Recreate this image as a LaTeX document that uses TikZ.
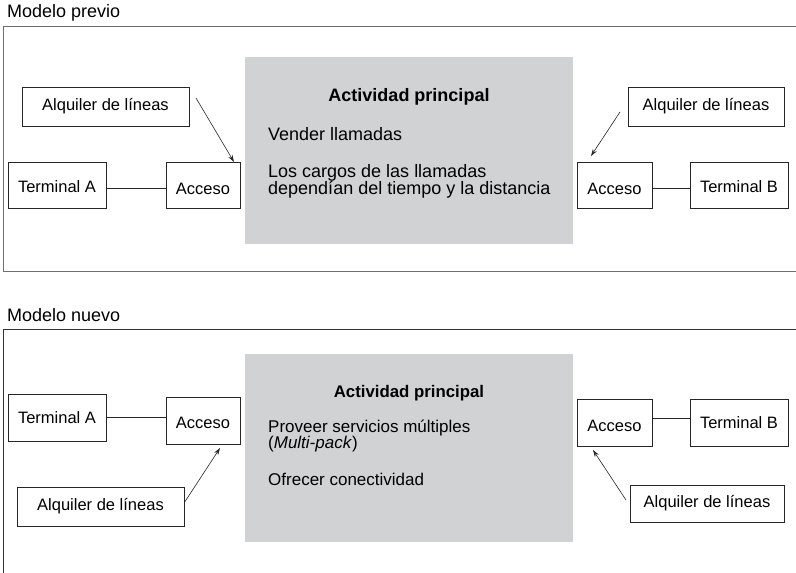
\documentclass[tikz,border=0pt]{standalone}
\usepackage{fontspec}
\setmainfont{Liberation Sans}
\usetikzlibrary{arrows.meta}
\definecolor{boxgray}{HTML}{D1D2D4}
\definecolor{framegray}{HTML}{6E6E6E}
\definecolor{framedark}{HTML}{333333}
\newcommand{\lowertext}[1]{\raisebox{-3pt}[12pt][0pt]{#1}}
\tikzset{
  lbl/.style={draw=black!85, line width=0.8pt, inner sep=0pt, fill=white,
    font=\fontsize{16.5}{19}\selectfont},
  grayarea/.style={fill=boxgray, draw=none, inner sep=0pt},
  gtext/.style={inner sep=0pt, anchor=west, align=left},
  title/.style={inner sep=0pt, anchor=west, font=\fontsize{18}{21}\selectfont},
  conn/.style={line width=0.8pt, draw=black!85},
  arr/.style={line width=0.6pt, draw=black!85, -{Stealth[length=7pt,width=4.5pt]}}
}
\begin{document}
\begin{tikzpicture}[x=1pt,y=-1pt]
\clip (0,0) rectangle (796,573);
\fill[white] (0,0) rectangle (796,573);

% ---------- Modelo previo ----------
\node[title] (t1) at (7,13) {Modelo previo};
\draw[framegray, line width=1pt] (3,26) rectangle (805,271);
\node[grayarea, minimum width=328pt, minimum height=187pt] (g1) at (409,150.5) {};
\node[inner sep=0pt, font=\fontsize{18}{21}\selectfont\bfseries] (h1) at (409,97) {Actividad principal};
\node[gtext, font=\fontsize{18}{21}\selectfont] (v1) at (268,134) {Vender llamadas};
\node[gtext, font=\fontsize{18}{17}\selectfont] (c1) at (268,181) {Los cargos de las llamadas\\dependían del tiempo y la distancia};

\node[lbl, minimum width=167pt, minimum height=39pt] (al1) at (105.5,106.5) {Alquiler de líneas};
\node[lbl, minimum width=98pt, minimum height=46pt] (ta1) at (57,185) {\raisebox{-1pt}[12pt][0pt]{Terminal A}};
\node[lbl, minimum width=74pt, minimum height=46pt] (ac1) at (203,185) {\lowertext{Acceso}};
\node[lbl, minimum width=156pt, minimum height=39pt] (ar1) at (706,106.5) {Alquiler de líneas};
\node[lbl, minimum width=75pt, minimum height=46pt] (bc1) at (614.5,185) {\lowertext{Acceso}};
\node[lbl, minimum width=98pt, minimum height=46pt] (tb1) at (739,185) {\raisebox{-1pt}[12pt][0pt]{Terminal B}};

\draw[conn] ([yshift=-3pt]ta1.east) -- ([yshift=-3pt]ac1.west);
\draw[conn] ([yshift=-3pt]bc1.east) -- ([yshift=-3pt]tb1.west);
\coordinate (s1) at (196,98);
\coordinate (e1) at (234,162);
\coordinate (s2) at (620,112);
\coordinate (e2) at (591,156);
\draw[arr] (s1) -- (e1);
\draw[arr] (s2) -- (e2);

% ---------- Modelo nuevo ----------
\node[title] (t2) at (7,315) {Modelo nuevo};
\draw[framedark, line width=1pt] (3,329) rectangle (805,590);
\node[grayarea, minimum width=328pt, minimum height=188pt] (g2) at (409,448) {};
\node[inner sep=0pt, font=\fontsize{16.8}{20}\selectfont\bfseries] (h2) at (409,393) {Actividad principal};
\node[gtext, font=\fontsize{17}{16}\selectfont] (p2) at (268,436) {Proveer servicios múltiples\\(\textit{Multi-pack})};
\node[gtext, font=\fontsize{17}{20}\selectfont] (o2) at (268,479) {Ofrecer conectividad};

\node[lbl, minimum width=98pt, minimum height=47pt] (ta2) at (57,417.5) {Terminal A};
\node[lbl, minimum width=74pt, minimum height=47pt] (ac2) at (203,420.5) {\raisebox{-1.5pt}[12pt][0pt]{Acceso}};
\node[lbl, minimum width=167pt, minimum height=39pt] (al2) at (100.5,506.5) {Alquiler de líneas};
\node[lbl, minimum width=75pt, minimum height=47pt] (bc2) at (614.5,422.5) {\raisebox{-3pt}[12pt][0pt]{Acceso}};
\node[lbl, minimum width=98pt, minimum height=47pt] (tb2) at (739,422.5) {Terminal B};
\node[lbl, minimum width=154pt, minimum height=37pt] (ar2) at (707,503.5) {Alquiler de líneas};

\draw[conn] (ta2.east) -- (ta2.east -| ac2.west);
\draw[conn] (bc2.east |- 0,418) -- (tb2.west |- 0,418);
\coordinate (e3) at (220,448);
\coordinate (s4) at (626,500);
\coordinate (e4) at (593,450);
\draw[arr] ([yshift=4pt]al2.east) -- (e3);
\draw[arr] (s4) -- (e4);
\end{tikzpicture}
\end{document}
